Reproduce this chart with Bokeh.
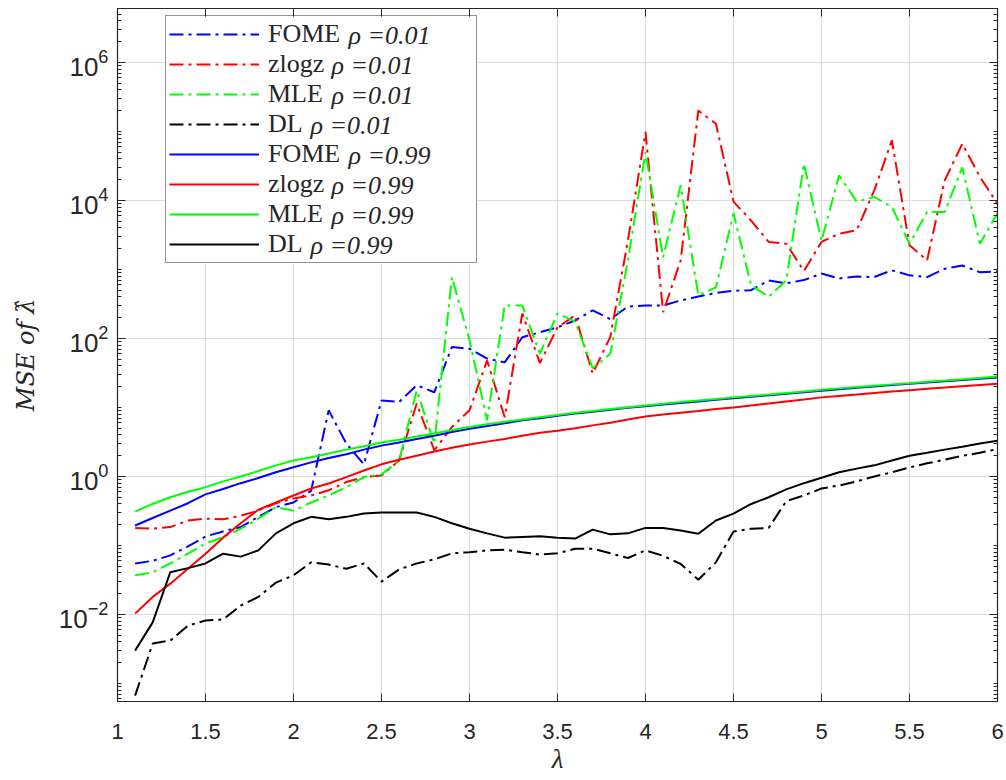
from bokeh.plotting import figure
from bokeh.models import (Legend, LegendItem, Label, LinearAxis, LogAxis, FixedTicker, Range1d,
                          CustomJSTickFormatter, BoxAnnotation)
from bokeh.embed import file_html
from bokeh.resources import INLINE

lam = [1.1, 1.2, 1.3, 1.4, 1.5, 1.6, 1.7, 1.8, 1.9, 2.0,
       2.1, 2.2, 2.3, 2.4, 2.5, 2.6, 2.7, 2.8, 2.9, 3.0,
       3.1, 3.2, 3.3, 3.4, 3.5, 3.6, 3.7, 3.8, 3.9, 4.0,
       4.1, 4.2, 4.3, 4.4, 4.5, 4.6, 4.7, 4.8, 4.9, 5.0,
       5.1, 5.2, 5.3, 5.4, 5.5, 5.6, 5.7, 5.8, 5.9, 6.0]

fome_001 = [0.055, 0.06, 0.072, 0.097, 0.135, 0.16, 0.185, 0.26, 0.36, 0.42,
            0.62, 9.1, 3.0, 1.5, 12.6, 12.0, 21, 16.6, 75, 71,
            51, 45, 104, 123, 145, 182, 255, 190, 290, 300,
            300, 355, 405, 455, 490, 500, 690, 630, 700, 870,
            740, 790, 775, 970, 820, 775, 1020, 1140, 910, 930]
zlogz_001 = [0.18, 0.175, 0.185, 0.23, 0.245, 0.24, 0.27, 0.32, 0.41, 0.48,
             0.53, 0.63, 0.83, 0.98, 1.03, 1.7, 11.4, 2.4, 5.2, 9.1,
             48, 7.2, 230, 44, 145, 215, 31, 105, 2600, 98000,
             240, 1350, 200000, 129000, 9600, 5100, 2500, 2350, 950, 2500,
             3300, 3700, 14000, 74000, 2240, 1350, 19500, 66000, 22000, 8900]
mle_001 = [0.037, 0.041, 0.055, 0.076, 0.107, 0.132, 0.175, 0.245, 0.36, 0.32,
           0.42, 0.53, 0.70, 0.98, 1.07, 1.7, 17.6, 3.0, 775, 94,
           6.5, 300, 300, 60, 230, 175, 37, 60, 1350, 50000,
           1500, 16600, 420, 550, 6500, 590, 400, 690, 34000, 2600,
           23000, 9600, 11200, 8000, 2350, 6800, 6800, 30000, 2350, 6500]
dl_001 = [0.00067, 0.0038, 0.0042, 0.0069, 0.0082, 0.0085, 0.0135, 0.018, 0.029, 0.037,
          0.057, 0.053, 0.046, 0.055, 0.030, 0.045, 0.055, 0.063, 0.077, 0.080,
          0.085, 0.087, 0.080, 0.074, 0.077, 0.09, 0.09, 0.077, 0.066, 0.085,
          0.071, 0.054, 0.032, 0.057, 0.16, 0.175, 0.18, 0.44, 0.53, 0.67,
          0.74, 0.85, 1.0, 1.15, 1.35, 1.55, 1.75, 2.0, 2.2, 2.5]
fome_099 = [0.195, 0.25, 0.32, 0.41, 0.55, 0.66, 0.80, 0.95, 1.15, 1.36,
            1.6, 1.85, 2.1, 2.45, 2.8, 3.1, 3.5, 3.9, 4.4, 4.9,
            5.4, 5.9, 6.5, 7.0, 7.6, 8.2, 8.7, 9.3, 9.9, 10.4,
            11.0, 11.6, 12.2, 12.9, 13.6, 14.3, 15.0, 15.8, 16.6, 17.5,
            18.4, 19.3, 20.2, 21.1, 22.0, 23.0, 24.0, 25.0, 26.1, 27.2]
zlogz_099 = [0.0103, 0.018, 0.028, 0.046, 0.076, 0.13, 0.21, 0.33, 0.42, 0.53,
             0.67, 0.79, 0.98, 1.22, 1.5, 1.75, 2.0, 2.3, 2.6, 2.9,
             3.2, 3.5, 3.9, 4.3, 4.6, 5.0, 5.5, 6.0, 6.7, 7.4,
             7.9, 8.4, 8.9, 9.5, 10.0, 10.7, 11.4, 12.2, 13.0, 14.0,
             14.7, 15.4, 16.2, 17.0, 17.8, 18.6, 19.4, 20.3, 21.2, 22.0]
mle_099 = [0.31, 0.40, 0.50, 0.60, 0.70, 0.85, 1.0, 1.2, 1.45, 1.7,
           1.9, 2.15, 2.45, 2.75, 3.1, 3.4, 3.8, 4.2, 4.7, 5.2,
           5.7, 6.2, 6.7, 7.2, 7.8, 8.4, 8.9, 9.5, 10.1, 10.7,
           11.3, 12.0, 12.6, 13.3, 14.0, 14.7, 15.4, 16.2, 17.0, 18.0,
           18.9, 19.8, 20.7, 21.6, 22.5, 23.5, 24.5, 25.6, 26.8, 28.0]
dl_099 = [0.003, 0.0077, 0.041, 0.047, 0.055, 0.076, 0.069, 0.085, 0.15, 0.21,
          0.26, 0.24, 0.26, 0.29, 0.30, 0.30, 0.30, 0.26, 0.21, 0.175,
          0.15, 0.13, 0.133, 0.136, 0.13, 0.126, 0.17, 0.145, 0.15, 0.18,
          0.18, 0.165, 0.148, 0.23, 0.29, 0.40, 0.50, 0.65, 0.80, 0.96,
          1.15, 1.3, 1.45, 1.7, 2.0, 2.2, 2.45, 2.7, 3.0, 3.3]

names = ["FOME", "zlogz", "MLE", "DL"]
rhos = ["0.01", "0.99"]
x_ticks = [1, 1.5, 2, 2.5, 3, 3.5, 4, 4.5, 5, 5.5, 6]
y_ticks = [1e-2, 1e0, 1e2, 1e4, 1e6]

series = [
    (fome_001, "#0000ff", "dashdot"), (zlogz_001, "#ff0000", "dashdot"),
    (mle_001, "#00ff00", "dashdot"), (dl_001, "#000000", "dashdot"),
    (fome_099, "#0000ff", "solid"), (zlogz_099, "#ff0000", "solid"),
    (mle_099, "#00ff00", "solid"), (dl_099, "#000000", "solid"),
]

W, H = 1006, 780
L, R, T, B = 117, 9, 8, 79
X0, X1 = 1.0, 6.0
YL0, YL1 = -3.26, 6.78

p = figure(width=W, height=H, output_backend="svg", toolbar_location=None,
           y_axis_type="log", x_range=Range1d(X0, X1),
           y_range=Range1d(10 ** YL0, 10 ** YL1),
           min_border_left=L, min_border_right=R, min_border_top=T, min_border_bottom=B)
p.background_fill_color = "white"
p.border_fill_color = "white"
p.outline_line_color = "#262626"
p.outline_line_width = 1.2

minor = [k * 10.0 ** n for n in range(-4, 7) for k in range(1, 10)]
yt = FixedTicker(ticks=y_ticks, minor_ticks=minor)
xt = FixedTicker(ticks=x_ticks)

FW, FH = W - L - R, H - T - B


def px_to_x(px):
    return X0 + (px - L) / FW * (X1 - X0)


def py_to_y(py):
    return 10 ** (YL1 - (py - T) / FH * (YL1 - YL0))


# white panel behind the legend (covers the grid lines)
LEG_L, LEG_T, LEG_R, LEG_B = 165, 17, 477, 263
p.add_layout(BoxAnnotation(left=px_to_x(LEG_L), right=px_to_x(LEG_R),
                           top=py_to_y(LEG_T), bottom=py_to_y(LEG_B),
                           fill_color="white", fill_alpha=1, line_color=None,
                           level="underlay"))

renderers = []
for vals, col, kind in series:
    dash = "14 5 3 5" if kind == "dashdot" else "solid"
    r = p.line(lam, vals, line_color=col, line_width=2, line_dash=dash)
    renderers.append(r)

TICKC = "#262626"
for ax in [p.xaxis[0], p.yaxis[0]]:
    ax.major_tick_in = 8
    ax.major_tick_out = 0
    ax.minor_tick_in = 4
    ax.minor_tick_out = 0
    ax.axis_line_color = TICKC
    ax.major_tick_line_color = TICKC
    ax.minor_tick_line_color = TICKC
    ax.major_label_text_font = "Liberation Sans"
    ax.major_label_text_color = TICKC
    ax.axis_label_text_font = "Liberation Serif"
    ax.axis_label_text_font_style = "italic"
    ax.axis_label_text_color = TICKC

p.xaxis[0].ticker = xt
p.xaxis[0].minor_tick_line_color = None
p.xaxis[0].axis_label = "λ"
p.xaxis[0].major_label_text_font_size = "22px"
p.xaxis[0].axis_label_text_font_size = "27px"
p.xaxis[0].major_label_standoff = 22
p.xaxis[0].axis_label_standoff = 2
p.yaxis[0].ticker = yt
p.yaxis[0].axis_label = "MSE of λ̂"
p.yaxis[0].axis_label_text_font = "DejaVu Serif"
p.yaxis[0].axis_label_text_font_size = "24px"
p.yaxis[0].major_label_text_font_size = "26px"
p.yaxis[0].major_label_standoff = 9
p.yaxis[0].axis_label_standoff = 16

blank = CustomJSTickFormatter(code="return ' '")
top = LinearAxis(ticker=xt, formatter=blank, major_tick_in=8, major_tick_out=0,
                 minor_tick_line_color=None, major_label_text_font_size="2px",
                 axis_line_color=TICKC, major_tick_line_color=TICKC, major_label_standoff=0)
right = LogAxis(ticker=yt, formatter=blank, major_tick_in=8, major_tick_out=0,
                minor_tick_in=4, minor_tick_out=0, major_label_text_font_size="2px",
                axis_line_color=TICKC, major_tick_line_color=TICKC,
                minor_tick_line_color=TICKC, major_label_standoff=0)
p.add_layout(top, "above")
p.add_layout(right, "right")

p.xgrid.ticker = xt
p.ygrid.ticker = yt
for g in (p.xgrid[0], p.ygrid[0]):
    g.grid_line_color = "#dcdcdc"
    g.grid_line_width = 1

items = []
for i, r in enumerate(renderers):
    items.append(LegendItem(label=names[i % 4], renderers=[r]))
leg = Legend(items=items, location=(LEG_L - L, H - B - LEG_B), margin=0, padding=3,
             spacing=0, glyph_width=90, glyph_height=20, label_height=20,
             label_standoff=9, label_width=205,
             label_text_font="Liberation Serif", label_text_font_size="26px",
             label_text_color="#262626", border_line_color="#262626",
             border_line_width=1.2, background_fill_alpha=0)
p.add_layout(leg, "center")

italic_x = {"FOME": 348, "zlogz": 331, "MLE": 331, "DL": 310}
for i in range(8):
    nm = names[i % 4]
    rho = rhos[i // 4]
    cy = 35 + 30 * i
    lab = Label(x=px_to_x(italic_x[nm]), y=py_to_y(cy),
                text="ρ =" + rho, text_font="Liberation Serif", text_font_style="italic",
                text_font_size="26px", text_color="#262626", text_baseline="middle")
    p.add_layout(lab)

open("out.html", "w").write(file_html(p, INLINE))
